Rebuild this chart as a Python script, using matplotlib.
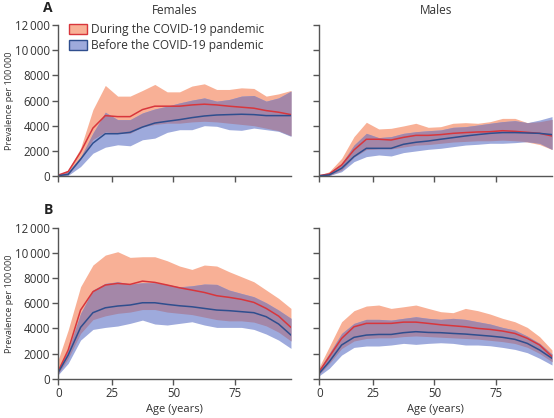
import numpy as np
import matplotlib
matplotlib.use("Agg")
import matplotlib.pyplot as plt
from matplotlib.patches import Patch

plt.rcParams['font.family'] = ['Open Sans', 'DejaVu Sans']

# age group midpoints (years)
ages = [2.5, 7.5, 12.5, 17.5, 22.5, 27.5, 32.5, 37.5, 42.5, 47.5,
        52.5, 57.5, 62.5, 67.5, 72.5, 77.5, 82.5, 87.5, 92.5, 97.5]

# A, females
a_f_during = [0, 350, 1900, 3810, 4800, 4720, 4720, 5280, 5550, 5550,
              5550, 5650, 5710, 5650, 5550, 5470, 5390, 5200, 5070, 4880]
a_f_during_lo = [0, 100, 1300, 2900, 3500, 3400, 3400, 3900, 4100, 4200,
                 4200, 4300, 4350, 4300, 4200, 4100, 4000, 3800, 3600, 3200]
a_f_during_hi = [0, 480, 2210, 5280, 7200, 6350, 6350, 6800, 7280, 6690,
                 6690, 7150, 7330, 6880, 6880, 7010, 6960, 6350, 6530, 6800]
a_f_before = [0, 130, 1330, 2610, 3360, 3360, 3470, 3890, 4210, 4350,
              4480, 4640, 4770, 4850, 4880, 4910, 4880, 4800, 4800, 4800]
a_f_before_lo = [0, 50, 750, 1810, 2290, 2480, 2400, 2880, 3010, 3470,
                 3680, 3680, 4000, 3950, 3680, 3630, 3810, 3680, 3550, 3150]
a_f_before_hi = [0, 350, 1490, 3410, 5070, 4480, 4480, 5010, 5330, 5550,
                 5810, 6030, 6210, 5950, 6080, 6350, 6400, 5950, 6210, 6750]

# A, males
a_m_during = [0, 160, 870, 2070, 2920, 2920, 2860, 3070, 3230, 3230,
              3290, 3390, 3450, 3500, 3520, 3600, 3550, 3470, 3390, 3180]
a_m_during_lo = [0, 40, 450, 1500, 2100, 2150, 2150, 2300, 2450, 2500,
                 2600, 2700, 2750, 2800, 2800, 2850, 2800, 2700, 2500, 2100]
a_m_during_hi = [0, 340, 1400, 3130, 4270, 3740, 3790, 3980, 4190, 3870,
                 3920, 4190, 4240, 4190, 4320, 4580, 4580, 4240, 4320, 4500]
a_m_before = [0, 80, 610, 1540, 2200, 2200, 2200, 2520, 2680, 2780,
              2920, 3050, 3180, 3290, 3390, 3450, 3450, 3420, 3390, 3290]
a_m_before_lo = [0, 30, 340, 1140, 1540, 1670, 1590, 1860, 1990, 2120,
                 2200, 2330, 2460, 2520, 2600, 2600, 2650, 2730, 2600, 2120]
a_m_before_hi = [0, 260, 1000, 2460, 3390, 3050, 3130, 3390, 3520, 3600,
                 3660, 3870, 3920, 4050, 4190, 4320, 4400, 4240, 4450, 4720]

# B, females
b_f_during = [200, 2280, 5460, 6920, 7450, 7580, 7500, 7760, 7660, 7450,
              7230, 7050, 6860, 6600, 6470, 6310, 6070, 5590, 4980, 4080]
b_f_during_lo = [100, 1600, 3600, 4700, 5000, 5200, 5300, 5500, 5500, 5300,
                 5200, 5100, 4900, 4700, 4600, 4600, 4500, 4200, 3700, 3000]
b_f_during_hi = [950, 3870, 7310, 9040, 9830, 10100, 9650, 9700, 9700, 9380,
                 8960, 8690, 9040, 8960, 8510, 8110, 7710, 7050, 6390, 5590]
b_f_before = [160, 1880, 4080, 5250, 5640, 5780, 5860, 6040, 6040, 5910,
              5800, 5720, 5590, 5460, 5410, 5330, 5250, 4930, 4350, 3470]
b_f_before_lo = [100, 1220, 3070, 3920, 4080, 4190, 4400, 4660, 4350, 4270,
                 4400, 4530, 4270, 4080, 4080, 4080, 3920, 3550, 3070, 2410]
b_f_before_hi = [400, 2280, 5190, 7050, 7580, 7710, 7530, 7630, 7630, 7500,
                 7310, 7390, 7530, 7500, 7050, 6780, 6520, 6040, 5460, 4800]

# B, males
b_m_during = [290, 1750, 3200, 4130, 4400, 4400, 4400, 4500, 4500, 4400,
              4290, 4210, 4130, 4000, 3920, 3790, 3600, 3210, 2680, 1750]
b_m_during_lo = [150, 1200, 2400, 3000, 3200, 3250, 3250, 3350, 3400, 3350,
                 3300, 3250, 3200, 3150, 3050, 2950, 2800, 2500, 2000, 1350]
b_m_during_hi = [560, 2540, 4530, 5410, 5780, 5860, 5590, 5720, 5860, 5590,
                 5330, 5250, 5590, 5410, 5140, 4800, 4530, 4080, 3340, 2280]
b_m_before = [210, 1350, 2680, 3290, 3470, 3520, 3520, 3660, 3740, 3680,
              3660, 3600, 3550, 3470, 3390, 3290, 3130, 2810, 2280, 1620]
b_m_before_lo = [100, 820, 1880, 2490, 2600, 2600, 2680, 2810, 2730, 2810,
                 2860, 2810, 2680, 2680, 2620, 2490, 2330, 2070, 1620, 1090]
b_m_before_hi = [420, 2010, 3600, 4400, 4720, 4720, 4660, 4800, 4930, 4800,
                 4720, 4800, 4720, 4530, 4350, 4080, 3870, 3390, 2810, 1960]

yticks = [0, 2000, 4000, 6000, 8000, 10000, 12000]
ytick_labels = ['0', '2000', '4000', '6000', '8000', '10\u2009000', '12\u2009000']
xtick_labels = ['0', '25', '50', '75']

RED_FILL = '#f8b096'
BLUE_FILL = '#9eaadc'
BOTH_FILL = '#a487a8'
RED_LINE = '#d8363c'
BLUE_LINE = '#2f4e8e'
AXIS_COL = '#555555'
TEXT_COL = '#333333'


def draw_panel(ax, during, d_lo, d_hi, before, b_lo, b_hi, bottom_row, left_col):
    x = np.array(ages)
    d_lo, d_hi = np.array(d_lo), np.array(d_hi)
    b_lo, b_hi = np.array(b_lo), np.array(b_hi)
    ax.fill_between(x, d_lo, d_hi, color=RED_FILL, lw=0)
    ax.fill_between(x, b_lo, b_hi, color=BLUE_FILL, lw=0)
    # overlap of the two uncertainty bands
    lo = np.maximum(d_lo, b_lo)
    hi = np.minimum(d_hi, b_hi)
    ax.fill_between(x, lo, hi, where=hi > lo, interpolate=True, color=BOTH_FILL, lw=0)
    ax.plot(x, during, color=RED_LINE, lw=1.1)
    ax.plot(x, before, color=BLUE_LINE, lw=1.1)

    x0 = 3.5
    ax.set_xlim(x0, ages[-1])
    ax.set_ylim(0, 12000)
    ax.set_yticks(yticks)
    ax.set_xticks([x0, 25, 50, 75])
    for s in ['top', 'right']:
        ax.spines[s].set_visible(False)
    for s in ['left', 'bottom']:
        ax.spines[s].set_color(AXIS_COL)
        ax.spines[s].set_linewidth(1.0)
    ax.tick_params(colors=AXIS_COL, length=4, width=1.0, labelsize=8.3, labelcolor=TEXT_COL, pad=2)
    if left_col:
        ax.set_yticklabels(ytick_labels)
        ax.set_ylabel('Prevalence per 100\u2009000', fontsize=6.6, color=TEXT_COL)
        ax.yaxis.set_label_coords(-0.19, 0.5)
    else:
        ax.set_yticklabels([])
    if bottom_row:
        ax.set_xticklabels(xtick_labels)
        ax.set_xlabel('Age (years)', fontsize=8, color=TEXT_COL, labelpad=3)
    else:
        ax.set_xticklabels([])


fig = plt.figure(figsize=(5.54, 4.18), dpi=100)
w = 0.42
h = 0.361
ax_af = fig.add_axes([0.1052, 0.579, w, h])
ax_am = fig.add_axes([0.5764, 0.579, w, h])
ax_bf = fig.add_axes([0.1052, 0.094, w, h])
ax_bm = fig.add_axes([0.5764, 0.094, w, h])

draw_panel(ax_af, a_f_during, a_f_during_lo, a_f_during_hi,
           a_f_before, a_f_before_lo, a_f_before_hi, False, True)
draw_panel(ax_am, a_m_during, a_m_during_lo, a_m_during_hi,
           a_m_before, a_m_before_lo, a_m_before_hi, False, False)
draw_panel(ax_bf, b_f_during, b_f_during_lo, b_f_during_hi,
           b_f_before, b_f_before_lo, b_f_before_hi, True, True)
draw_panel(ax_bm, b_m_during, b_m_during_lo, b_m_during_hi,
           b_m_before, b_m_before_lo, b_m_before_hi, True, False)

ax_af.set_title('Females', fontsize=8.5, color=TEXT_COL, pad=8)
ax_am.set_title('Males', fontsize=8.5, color=TEXT_COL, pad=8)

fig.text(0.077, 0.998, 'A', fontsize=10, fontweight='bold', va='top', color='#222222')
fig.text(0.079, 0.515, 'B', fontsize=10, fontweight='bold', va='top', color='#222222')

handles = [Patch(facecolor=RED_FILL, edgecolor=RED_LINE, lw=1.0),
           Patch(facecolor=BLUE_FILL, edgecolor=BLUE_LINE, lw=1.0)]
ax_af.legend(handles, ['During the COVID-19 pandemic', 'Before the COVID-19 pandemic'],
             loc='upper left', bbox_to_anchor=(0.045, 1.015), frameon=False,
             fontsize=8.6, handlelength=1.5, handleheight=0.9, handletextpad=0.4,
             labelspacing=0.3, borderpad=0, borderaxespad=0, labelcolor=TEXT_COL)

fig.savefig('out.png', dpi=100)
